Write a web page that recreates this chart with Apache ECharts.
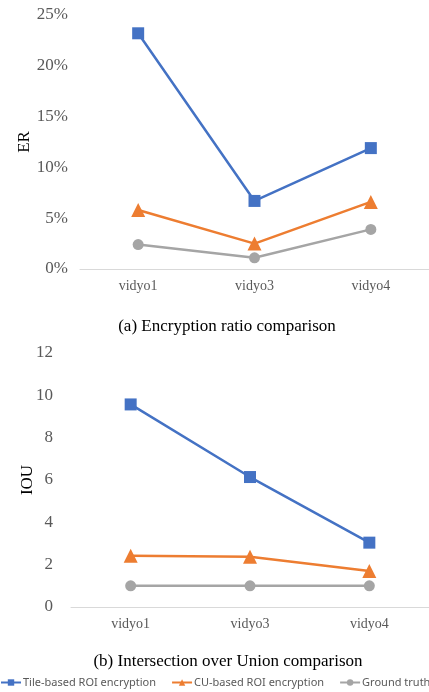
<!DOCTYPE html>
<html>
<head>
<meta charset="utf-8">
<script src="https://cdn.jsdelivr.net/npm/echarts@6/dist/echarts.min.js"></script>
<style>
html, body { margin: 0; padding: 0; background: #fff; }
#main { width: 429px; height: 692px; }
</style>
</head>
<body>
<div id="main"></div>
<script>
var dom = document.getElementById("main");
var myChart = echarts.init(dom);

// data
var videos = ['vidyo1', 'vidyo3', 'vidyo4'];
var seriesNames = ['Tile-based ROI encryption', 'CU-based ROI encryption', 'Ground truth'];
// (a) encryption ratio, percent
var erTile = [23.2, 6.7, 11.9];
var erCU = [5.8, 2.5, 6.6];
var erGT = [2.4, 1.1, 3.9];
// (b) IOU
var iouTile = [9.57, 6.14, 3.04];
var iouCU = [2.42, 2.37, 1.7];
var iouGT = [1, 1, 1];

var colors = ['#4472C4', '#ED7D31', '#A5A5A5'];
var symbols = ['rect', 'triangle', 'circle'];
var symbolSizes = [12, 14, 11];
var serif = '"Liberation Serif", "DejaVu Serif", serif';

function lineSeries(i, data, idx) {
    return {
        name: seriesNames[i],
        type: 'line',
        xAxisIndex: idx,
        yAxisIndex: idx,
        data: data,
        symbol: symbols[i],
        symbolSize: symbolSizes[i],
        showAllSymbol: true,
        color: colors[i],
        lineStyle: {width: 2.5, color: colors[i]},
        itemStyle: {color: colors[i]}
    };
}

var xAxisBase = {
    type: 'category',
    data: videos,
    axisTick: {show: false},
    axisLine: {lineStyle: {color: '#d9d9d9', width: 1}},
    axisLabel: {color: '#595959', fontFamily: serif, fontSize: 14, margin: 10}
};

option = {
    backgroundColor: '#fff',
    animation: false,
    grid: [
        {left: 80, top: 15, width: 355, height: 254},
        {left: 71, top: 353, width: 365, height: 254}
    ],
    xAxis: [
        Object.assign({gridIndex: 0}, xAxisBase),
        Object.assign({gridIndex: 1}, xAxisBase)
    ],
    yAxis: [{
        gridIndex: 0,
        type: 'value',
        min: 0, max: 25, interval: 5,
        name: 'ER',
        nameLocation: 'middle',
        nameGap: 47,
        nameMoveOverlap: false,
        nameTextStyle: {color: '#000', fontFamily: serif, fontSize: 17},
        splitLine: {show: false},
        axisLine: {show: false},
        axisTick: {show: false},
        axisLabel: {color: '#595959', fontFamily: serif, fontSize: 17, margin: 12,
            formatter: function (v) { return v + '%'; }}
    }, {
        gridIndex: 1,
        type: 'value',
        min: 0, max: 12, interval: 2,
        name: 'IOU',
        nameLocation: 'middle',
        nameGap: 35,
        nameMoveOverlap: false,
        nameTextStyle: {color: '#000', fontFamily: serif, fontSize: 17},
        splitLine: {show: false},
        axisLine: {show: false},
        axisTick: {show: false},
        axisLabel: {color: '#595959', fontFamily: serif, fontSize: 17, margin: 18}
    }],
    title: [{
        text: '(a) Encryption ratio comparison',
        left: 222, top: 313, textAlign: 'center',
        textStyle: {fontFamily: serif, fontSize: 17, fontWeight: 'normal', color: '#000'}
    }, {
        text: '(b) Intersection over Union comparison',
        left: 223, top: 648, textAlign: 'center',
        textStyle: {fontFamily: serif, fontSize: 17, fontWeight: 'normal', color: '#000'}
    }],
    legend: {
        data: seriesNames,
        left: 0,
        top: 677,
        width: 800,
        itemWidth: 20,
        itemHeight: 8,
        itemGap: 15,
        padding: 0,
        textStyle: {color: '#595959', fontFamily: '"Noto Sans", sans-serif', fontSize: 11, padding: [0, 0, 0, -3]}
    },
    series: [
        lineSeries(0, erTile, 0),
        lineSeries(1, erCU, 0),
        lineSeries(2, erGT, 0),
        lineSeries(0, iouTile, 1),
        lineSeries(1, iouCU, 1),
        lineSeries(2, iouGT, 1)
    ]
};

if (option && typeof option === "object") {
    myChart.setOption(option, true);
}
</script>
</body>
</html>
